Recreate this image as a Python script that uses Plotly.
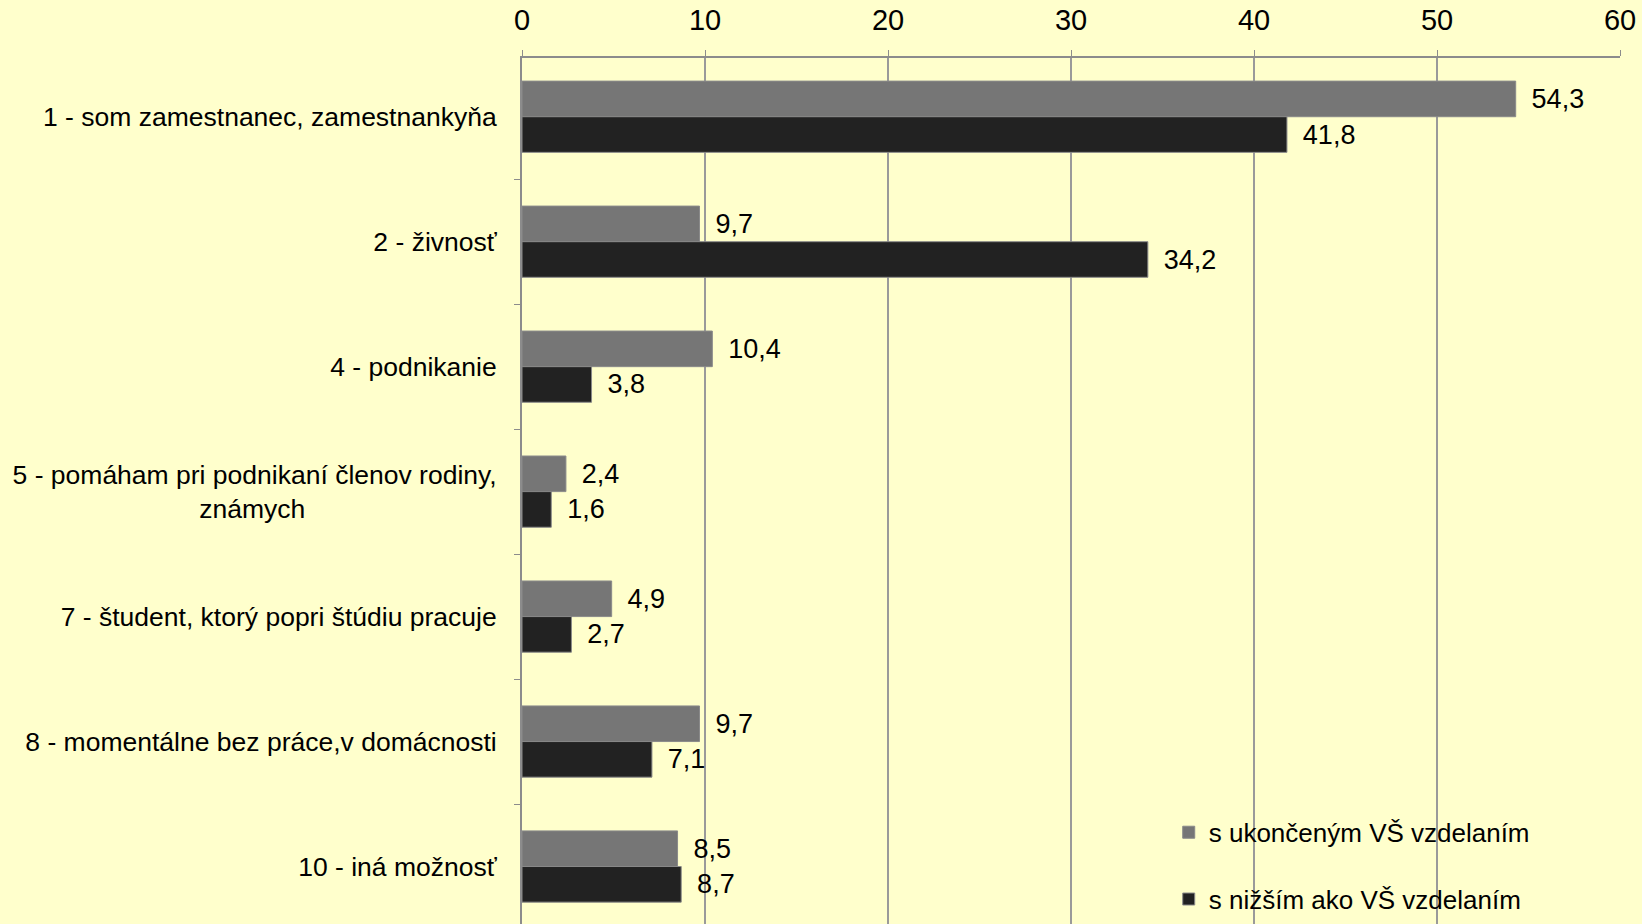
import plotly.graph_objects as go

categories = [
    "1 - som zamestnanec, zamestnankyňa",
    "2 - živnosť",
    "4 - podnikanie",
    "5 - pomáham pri podnikaní členov rodiny,<br>známych" + "\u00a0" * 26,
    "7 - študent, ktorý popri štúdiu pracuje",
    "8 - momentálne bez práce,v domácnosti",
    "10 - iná možnosť",
]
series_names = ["s ukončeným VŠ vzdelaním", "s nižším ako VŠ vzdelaním"]
vs_values = [54.3, 9.7, 10.4, 2.4, 4.9, 9.7, 8.5]
lower_values = [41.8, 34.2, 3.8, 1.6, 2.7, 7.1, 8.7]
x_ticks = [0, 10, 20, 30, 40, 50, 60]

def fmt(v):
    return "\u00a0\u2009" + f"{v:.1f}".replace(".", ",")

colors = ["#767676", "#222222"]
fig = go.Figure()
for i, (name, vals) in enumerate(zip(series_names, [vs_values, lower_values])):
    fig.add_trace(go.Bar(
        y=categories, x=vals, orientation="h", name=name,
        marker=dict(color=colors[i], line=dict(color="#8a8a8a", width=1)),
        text=[fmt(v) for v in vals], textposition="outside",
        textfont=dict(family="Liberation Sans, Arial", size=27, color="#000000"),
        cliponaxis=False, legendgroup=f"g{i}",
    ))

fig.update_layout(
    width=1642, height=924,
    paper_bgcolor="#FFFFCC", plot_bgcolor="#FFFFCC",
    margin=dict(l=522, r=22, t=58, b=0, autoexpand=False),
    barmode="group", bargap=0.43, bargroupgap=0,
    font=dict(family="Liberation Sans, Arial", size=26.5, color="#000000"),
    xaxis=dict(side="top", range=[0, 60], tickvals=x_ticks,
               showgrid=True, gridcolor="#9a9a9a", gridwidth=1.5,
               showline=True, linecolor="#8c8c8c", linewidth=2,
               ticks="outside", ticklen=6, tickcolor="#8c8c8c",
               ticklabelstandoff=8,
               tickfont=dict(family="Liberation Sans Narrow, Arial Narrow, Liberation Sans", size=29),
               zeroline=False, fixedrange=True, automargin=False),
    yaxis=dict(range=[6.46, -0.47], type="category",
               showline=True, linecolor="#8c8c8c", linewidth=2,
               ticks="outside", ticklen=6, tickcolor="#8c8c8c", tickson="boundaries",
               ticklabelstandoff=18, showgrid=False, fixedrange=True, automargin=False),
    showlegend=True,
    legend=dict(x=0.589, xanchor="left", y=0.133, yanchor="top",
                bgcolor="rgba(0,0,0,0)", traceorder="grouped", tracegroupgap=30,
                font=dict(size=26), itemwidth=30),
)
fig.write_html("out.html")
